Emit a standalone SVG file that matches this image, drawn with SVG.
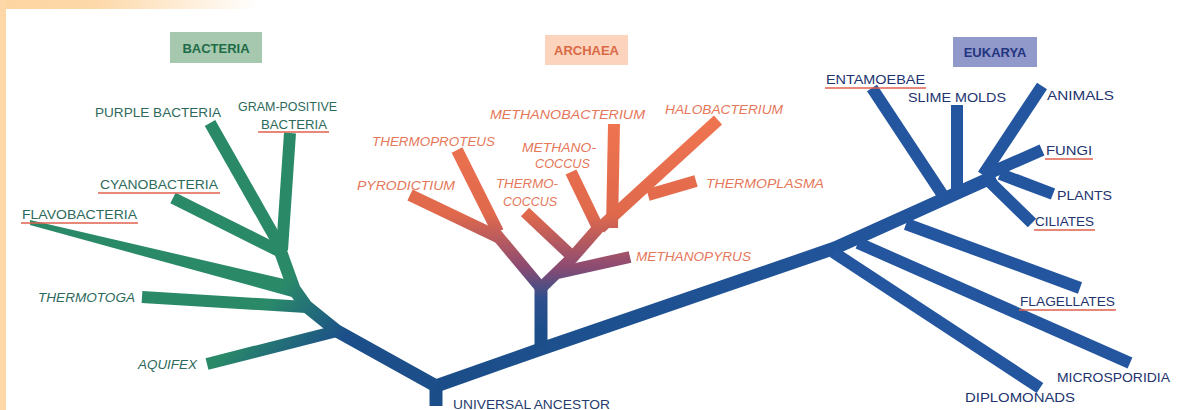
<svg xmlns="http://www.w3.org/2000/svg" width="1180" height="410" viewBox="0 0 1180 410">
<defs>
<linearGradient id="gTop" x1="0" y1="0" x2="1180" y2="0" gradientUnits="userSpaceOnUse">
<stop offset="0" stop-color="#fdd5a2"/><stop offset="0.08" stop-color="#fdd8a8"/><stop offset="0.22" stop-color="#ffffff"/>
</linearGradient>
<linearGradient id="gBac" x1="285" y1="282" x2="345" y2="335" gradientUnits="userSpaceOnUse">
<stop offset="0" stop-color="#2a8a68"/><stop offset="1" stop-color="#1c4f8a"/>
</linearGradient>
<linearGradient id="gArc" x1="0" y1="120" x2="0" y2="330" gradientUnits="userSpaceOnUse">
<stop offset="0" stop-color="#ef7450"/><stop offset="0.45" stop-color="#e0694c"/><stop offset="0.7" stop-color="#8c4b72"/><stop offset="0.85" stop-color="#2e4f8c"/><stop offset="1" stop-color="#1c4f8a"/>
</linearGradient>
<linearGradient id="gTrunk" x1="436" y1="0" x2="1000" y2="0" gradientUnits="userSpaceOnUse">
<stop offset="0" stop-color="#1b4e88"/><stop offset="1" stop-color="#2456a0"/>
</linearGradient>
</defs>
<style>
.br{fill:none;stroke-linecap:butt;stroke-linejoin:round}
.bac{stroke:url(#gBac);stroke-width:12}
.arc{stroke:url(#gArc);stroke-width:12}
.euk{stroke:#2456a0;stroke-width:12}
.trk{stroke:url(#gTrunk);stroke-width:13}
text{font-family:"Liberation Sans",Arial,sans-serif;font-size:13.5px}
.lb{fill:#2d6a5b}
.la{fill:#e5775a;font-style:italic}
.le{fill:#22336e}
.hd{font-weight:bold;font-size:13px;text-anchor:middle}
.ul{stroke:#e0604e;stroke-width:1.5}
</style>
<rect width="1180" height="410" fill="#ffffff"/>
<rect x="0" y="0" width="1180" height="9" fill="url(#gTop)"/>
<rect x="0" y="0" width="6" height="410" fill="#fdd7a8"/>

<g id="connectors">
<line class="br trk" x1="436" y1="383" x2="436" y2="406"/>
<polyline class="br trk" points="436,386 541,349 835,248 995,176"/>
<polyline class="br bac" style="stroke-width:13" points="436,386 337,331 306,306 294,289 280,250"/>
<line class="br bac" x1="207" y1="364" x2="337" y2="331"/>
<line class="br bac" x1="142" y1="297" x2="306" y2="307"/>
<polygon fill="url(#gBac)" points="30,220 30,225 292,297 297,282"/>
<line class="br bac" x1="173" y1="198" x2="281" y2="252"/>
<line class="br bac" x1="210" y1="123" x2="281" y2="248"/>
<line class="br bac" x1="290" y1="133" x2="282" y2="250"/>
<line class="br arc" style="stroke-width:13" x1="541" y1="349" x2="541" y2="286"/>
<polyline class="br arc" points="541,288 496,234"/>
<line class="br arc" x1="410" y1="195" x2="500" y2="238"/>
<line class="br arc" x1="457" y1="150" x2="498" y2="232"/>
<polyline class="br arc" points="541,288 572,258 600,226"/>
<line class="br arc" x1="558" y1="273" x2="630" y2="257"/>
<line class="br arc" x1="525" y1="212" x2="575" y2="259"/>
<line class="br arc" x1="571" y1="172" x2="598" y2="228"/>
<line class="br arc" x1="614" y1="124" x2="612" y2="228"/>
<line class="br arc" x1="718" y1="120" x2="600" y2="228"/>
<line class="br arc" x1="696" y1="181" x2="648" y2="195"/>
<line class="br euk" x1="872" y1="88" x2="944" y2="197"/>
<line class="br euk" x1="957" y1="105" x2="957" y2="190"/>
<line class="br euk" x1="1042" y1="86" x2="983" y2="175"/>
<line class="br euk" x1="1042" y1="150" x2="992" y2="172"/>
<line class="br euk" x1="1053" y1="194" x2="1000" y2="174"/>
<line class="br euk" x1="1032" y1="223" x2="990" y2="182"/>
<line class="br euk" x1="906" y1="224" x2="1080" y2="288"/>
<line class="br euk" x1="858" y1="243" x2="1130" y2="363"/>
<line class="br euk" x1="833" y1="252" x2="1040" y2="388"/>
</g>

<g id="bacteria-header">
<rect x="170" y="32" width="92" height="31" fill="#a5c8ae"/>
<text class="hd" x="216" y="52.5" fill="#1e6b48">BACTERIA</text>
</g>
<g id="archaea-header">
<rect x="545" y="35" width="83" height="30" fill="#fcd3bd"/>
<text class="hd" x="586.5" y="55" fill="#d96a45">ARCHAEA</text>
</g>
<g id="eukarya-header">
<rect x="953" y="37" width="84" height="30" fill="#9198ca"/>
<text class="hd" x="995" y="57" fill="#23357f">EUKARYA</text>
</g>

<g id="purple-bacteria"><text class="lb" x="95" y="117" textLength="126" lengthAdjust="spacingAndGlyphs">PURPLE BACTERIA</text></g>
<g id="gram-positive"><text class="lb" x="238" y="111" textLength="99" lengthAdjust="spacingAndGlyphs">GRAM-POSITIVE</text><text class="lb" x="261" y="129" textLength="66" lengthAdjust="spacingAndGlyphs">BACTERIA</text><line class="ul" x1="258" y1="132" x2="329" y2="132"/></g>
<g id="cyanobacteria"><text class="lb" x="100" y="189" textLength="118" lengthAdjust="spacingAndGlyphs">CYANOBACTERIA</text><line class="ul" x1="98" y1="193" x2="220" y2="193"/></g>
<g id="flavobacteria"><text class="lb" x="22" y="219" textLength="115" lengthAdjust="spacingAndGlyphs">FLAVOBACTERIA</text><line class="ul" x1="21" y1="223" x2="138" y2="223"/></g>
<g id="thermotoga"><text class="lb" font-style="italic" x="38" y="302" textLength="97" lengthAdjust="spacingAndGlyphs">THERMOTOGA</text></g>
<g id="aquifex"><text class="lb" font-style="italic" x="138" y="369" textLength="59" lengthAdjust="spacingAndGlyphs">AQUIFEX</text></g>
<g id="universal-ancestor"><text fill="#253c6c" x="453" y="409" textLength="157" lengthAdjust="spacingAndGlyphs">UNIVERSAL ANCESTOR</text></g>

<g id="methanobacterium"><text class="la" x="490" y="119" textLength="155" lengthAdjust="spacingAndGlyphs">METHANOBACTERIUM</text></g>
<g id="halobacterium"><text class="la" x="665" y="114" textLength="118" lengthAdjust="spacingAndGlyphs">HALOBACTERIUM</text></g>
<g id="thermoproteus"><text class="la" x="372" y="146" textLength="123" lengthAdjust="spacingAndGlyphs">THERMOPROTEUS</text></g>
<g id="methanococcus"><text class="la" x="522" y="152" textLength="74" lengthAdjust="spacingAndGlyphs">METHANO-</text><text class="la" x="535" y="168" textLength="55" lengthAdjust="spacingAndGlyphs">COCCUS</text></g>
<g id="pyrodictium"><text class="la" x="357" y="190" textLength="98" lengthAdjust="spacingAndGlyphs">PYRODICTIUM</text></g>
<g id="thermococcus"><text class="la" x="496" y="188" textLength="62" lengthAdjust="spacingAndGlyphs">THERMO-</text><text class="la" x="503" y="206" textLength="54" lengthAdjust="spacingAndGlyphs">COCCUS</text></g>
<g id="thermoplasma"><text class="la" x="706" y="188" textLength="118" lengthAdjust="spacingAndGlyphs">THERMOPLASMA</text></g>
<g id="methanopyrus"><text class="la" x="636" y="261" textLength="115" lengthAdjust="spacingAndGlyphs">METHANOPYRUS</text></g>

<g id="entamoebae"><text class="le" x="826" y="84" textLength="99" lengthAdjust="spacingAndGlyphs">ENTAMOEBAE</text><line class="ul" x1="825" y1="88" x2="926" y2="88"/></g>
<g id="slime-molds"><text class="le" x="908" y="102" textLength="98" lengthAdjust="spacingAndGlyphs">SLIME MOLDS</text></g>
<g id="animals"><text class="le" x="1047" y="100" textLength="67" lengthAdjust="spacingAndGlyphs">ANIMALS</text></g>
<g id="fungi"><text class="le" x="1046" y="155" textLength="46" lengthAdjust="spacingAndGlyphs">FUNGI</text><line class="ul" x1="1045" y1="159" x2="1093" y2="159"/></g>
<g id="plants"><text class="le" x="1057" y="200" textLength="55" lengthAdjust="spacingAndGlyphs">PLANTS</text></g>
<g id="ciliates"><text class="le" x="1035" y="226" textLength="59" lengthAdjust="spacingAndGlyphs">CILIATES</text><line class="ul" x1="1034" y1="230" x2="1095" y2="230"/></g>
<g id="flagellates"><text class="le" x="1020" y="306" textLength="95" lengthAdjust="spacingAndGlyphs">FLAGELLATES</text><line class="ul" x1="1019" y1="310" x2="1116" y2="310"/></g>
<g id="microsporidia"><text class="le" x="1057" y="382" textLength="113" lengthAdjust="spacingAndGlyphs">MICROSPORIDIA</text></g>
<g id="diplomonads"><text class="le" x="965" y="402" textLength="110" lengthAdjust="spacingAndGlyphs">DIPLOMONADS</text></g>
</svg>
